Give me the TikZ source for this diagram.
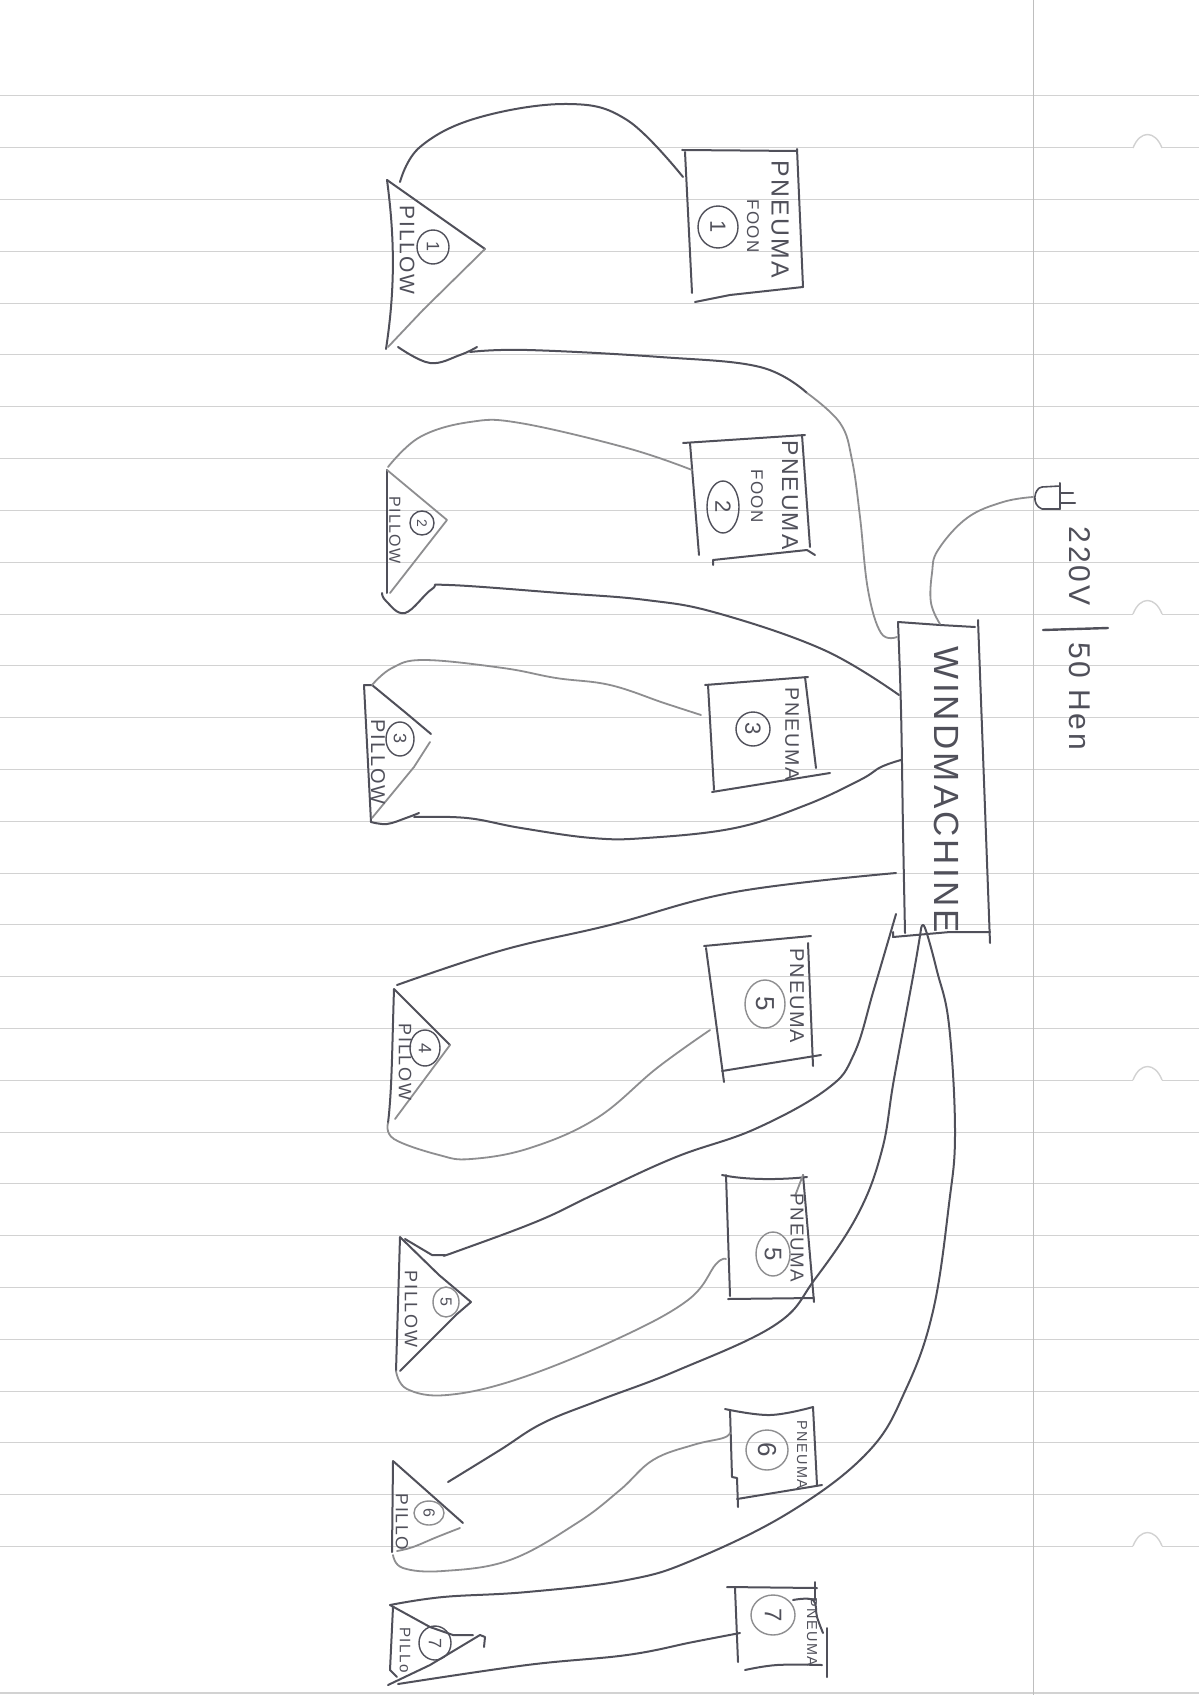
\documentclass[tikz,border=0pt]{standalone}
\usepackage{fontspec}
\setmainfont[LetterSpace=9]{Liberation Sans}
\definecolor{ink}{HTML}{50505A}
\definecolor{inkl}{HTML}{8E8E90}
\definecolor{rule}{HTML}{D2D2D2}
\definecolor{margin}{HTML}{BEBEBE}
\newcommand{\fs}[1]{\fontsize{#1}{#1}\selectfont}
\tikzset{
  pen/.style={draw=ink,line width=1pt,line cap=round,line join=round},
  penl/.style={draw=inkl,line width=.9pt,line cap=round,line join=round},
  cv/.style={smooth,tension=.65},
  lab/.style={rotate=-90,inner sep=0pt,text=ink,font=\fs{#1}},
  num/.style={draw=ink,line width=.7pt,ellipse,inner sep=0pt}
}
\usetikzlibrary{shapes.geometric}
\begin{document}
\begin{tikzpicture}[x=.5pt,y=-.5pt]
\useasboundingbox (0,0) rectangle (1199,1695);
\fill[white] (0,0) rectangle (1199,1695);
% paper
\foreach \k in {0,...,28}{\draw[rule,line width=.5pt] (0,{96+51.8*\k}) -- (1199,{96+51.8*\k});}
\draw[rule,line width=.8pt] (0,1693) -- (1199,1693);
\draw[margin,line width=.5pt] (1033,0) -- (1033,1695);
\foreach \k in {148,614,1080,1546}{
  \fill[white] (1133,{\k-1.5}) rectangle (1162,{\k+1.5});
  \draw[rule,line width=.7pt] (1133,\k) .. controls (1140,{\k-18}) and (1155,{\k-18}) .. (1162,\k);
}
% ---------- windmachine
\coordinate (mTL) at (898,622); \coordinate (mTR) at (975,627);
\coordinate (mL2) at (899,695); \coordinate (mL3) at (901,760); \coordinate (mL4) at (896,873);
\coordinate (mL5) at (896,914); \coordinate (mB) at (921,929); \coordinate (mL1) at (897,637);
\coordinate (mP) at (940,624);
\draw[pen] (mTL) -- (940,625) -- (mTR);
\draw[pen] (978,620) -- (990,943);
\draw[pen] plot[cv] coordinates {(mTL) (901,710) (903,830) (905,933)};
\draw[pen] (893,932) -- (893,937) -- (950,932) -- (990,932);
\node[lab=17.5] (wm) at (947,790) {WINDMACHINE};
% plug
\coordinate (plugin) at (1033,497);
\draw[penl] plot[cv] coordinates {(mP) (931,603) (932,573) (938,550) (967,518) (1003,502) (plugin)};
\draw[pen,line width=.8pt] (1060,486) -- (1042,487) .. controls (1034,488) and (1031,505) .. (1042,509) -- (1060,509);
\draw[pen] (1060,483) -- (1060,509);
\draw[pen] (1060,493) -- (1073,493); \draw[pen] (1060,503) -- (1075,503);
\node[lab=15] (volt) at (1080,566) {220V};
\draw[pen,line width=1.2pt] (1043,630) -- (1108,628);
\node[lab=15] (hz) at (1080,696) {50 Hen};
% ---------- 1
\draw[pen] (387,180) .. controls (395,240) and (395,290) .. (386,349);
\draw[pen] (387,180) -- (485,249);
\draw[penl] (485,249) -- (423,310) -- (388,347);
\node[lab=10.5] (p1) at (407,250) {PILLOW};
\node[num,minimum width=32pt/2,minimum height=34pt/2] (c1p) at (433,247) {}; \node[lab=9] at (c1p) {1};
\draw[pen] (682,150) -- (797,151); \draw[pen] (685,152) -- (692,293);
\draw[pen] (797,149) -- (803,287); \draw[pen] (695,302) -- (730,295) -- (803,287);
\node[lab=12.4] (b1) at (780,219) {PNEUMA};
\node[lab=8.5] (f1) at (753,226) {FOON};
\node[num,minimum width=40pt/2,minimum height=42pt/2] (c1b) at (718,227) {}; \node[lab=11] at (c1b) {1};
\draw[pen] plot[cv] coordinates {(400,182) (420,147) (477,118) (567,104) (627,120) (683,177)};
\draw[pen] plot[cv] coordinates {(398,347) (430,363) (460,355) (477,347)};
\draw[pen] plot[cv] coordinates {(470,352) (527,350) (660,357) (760,367) (807,393)};
\draw[penl] plot[cv] coordinates {(807,393) (840,423) (852,460) (860,517) (868,590) (881,633) (mL1)};
% ---------- 2
\draw[pen] (387,470) -- (387,593);
\draw[penl] (387,470) -- (447,520) -- (390,593);
\node[lab=8] (p2) at (395,530) {PILLOW};
\node[num,minimum width=24pt/2,minimum height=24pt/2] (c2p) at (422,523) {}; \node[lab=7] at (c2p) {2};
\draw[pen] (683,443) -- (805,435); \draw[pen] (690,443) -- (699,555);
\draw[pen] (802,435) -- (810,547); \draw[pen] (713,565) -- (713,560) -- (807,550) -- (815,555);
\node[lab=11.5] (b2) at (790,495) {PNEUMA};
\node[lab=8.5] (f2) at (757,496) {FOON};
\node[num,minimum width=32pt/2,minimum height=52pt/2] (c2b) at (723,507) {}; \node[lab=11] at (c2b) {2};
\draw[penl] plot[cv] coordinates {(388,467) (420,437) (470,422) (520,423) (627,448) (692,470)};
\draw[pen] plot[cv] coordinates {(382,593) (386,601) (405,613) (432,589) (449,585) (560,593) (646,600) (717,613) (824,650) (mL2)};
% ---------- 3
\draw[pen] (364,685) -- (371,822);
\draw[pen] (364,685) -- (372,685) -- (406,713) -- (431,734);
\draw[penl] (430,742) -- (414,767) -- (372,818);
\node[lab=10] (p3) at (378,762) {PILLOW};
\node[num,minimum width=28pt/2,minimum height=34pt/2] (c3p) at (400,739) {}; \node[lab=9] at (c3p) {3};
\draw[pen] (705,685) -- (808,677); \draw[pen] (708,685) -- (714,790);
\draw[pen] (805,677) -- (816,768); \draw[pen] (712,792) -- (830,773);
\node[lab=9.8] (b3) at (792,734) {PNEUMA};
\node[num,minimum width=34pt/2,minimum height=34pt/2] (c3b) at (753,729) {}; \node[lab=11] at (c3b) {3};
\draw[penl] plot[cv] coordinates {(372,685) (392,668) (424,660) (503,668) (556,678) (610,685) (664,703) (701,715)};
\draw[pen] plot[cv] coordinates {(371,822) (387,824) (406,818) (419,813)};
\draw[pen] plot[cv] coordinates {(414,817) (467,818) (521,828) (592,838) (646,838) (735,828) (806,805) (860,780) (881,767) (mL3)};
% ---------- 4
\draw[pen] (394,989) .. controls (392,1050) and (392,1090) .. (388,1123);
\draw[pen] (394,989) -- (450,1045);
\draw[penl] (450,1045) -- (395,1119);
\node[lab=9] (p4) at (405,1062) {PILLOW};
\node[num,minimum width=30pt/2,minimum height=36pt/2] (c4p) at (425,1048) {}; \node[lab=9] at (c4p) {4};
\draw[pen] (704,946) -- (811,936); \draw[pen] (706,948) -- (724,1082);
\draw[pen] (808,943) -- (813,1066); \draw[pen] (722,1071) -- (821,1055);
\node[lab=10] (b4) at (797,996) {PNEUMA};
\node[num,draw=inkl,minimum width=40pt/2,minimum height=48pt/2] (c4b) at (765,1004) {}; \node[lab=13] at (c4b) {5};
\draw[pen] plot[cv] coordinates {(397,985) (503,950) (610,925) (735,892) (mL4)};
\draw[penl] plot[cv] coordinates {(388,1123) (394,1139) (439,1155) (471,1159) (530,1148) (597,1118) (657,1068) (710,1030)};
% ---------- 5
\draw[pen] (400,1237) -- (396,1371);
\draw[pen] (400,1237) -- (439,1275) -- (471,1302);
\draw[pen] (471,1302) -- (457,1314) -- (400,1371);
\node[lab=9] (p5) at (411,1309) {PILLOW};
\node[num,draw=inkl,minimum width=26pt/2,minimum height=30pt/2] (c5p) at (446,1302) {}; \node[lab=8] at (c5p) {5};
\draw[pen] (722,1175) .. controls (745,1180) and (780,1180) .. (807,1177);
\draw[pen] (726,1175) -- (730,1296);
\draw[pen] (803,1175) -- (814,1302); \draw[pen] (728,1299) -- (814,1298);
\draw[penl] (803,1175) -- (795,1196);
\node[lab=9.4] (b5) at (797,1238) {PNEUMA};
\node[num,draw=inkl,minimum width=34pt/2,minimum height=44pt/2] (c5b) at (773,1254) {}; \node[lab=12] at (c5b) {5};
\draw[pen] plot[cv] coordinates {(mL5) (874,989) (854,1054) (827,1089) (755,1129) (676,1157) (597,1193) (538,1221) (455,1252) (445,1255)};
\draw[pen] (445,1255) -- (432,1255) -- (405,1239);
\draw[penl] plot[cv] coordinates {(396,1371) (407,1389) (447,1395) (518,1379) (617,1339) (688,1300) (716,1264) (726,1259)};
% ---------- 6
\draw[pen] (393,1461) -- (392,1552);
\draw[pen] (393,1461) -- (463,1523);
\draw[penl] plot[cv] coordinates {(460,1528) (437,1537) (413,1547) (397,1551)};
\node[lab=8.8] (p6) at (402,1522) {PILLO};
\node[num,draw=inkl,minimum width=30pt/2,minimum height=24pt/2] (c6p) at (429,1513) {}; \node[lab=8] at (c6p) {6};
\draw[pen] plot[cv] coordinates {(725,1409) (770,1415) (813,1407)};
\draw[pen] (730,1410) -- (732,1477) -- (737,1478) -- (738,1507);
\draw[pen] (813,1407) -- (817,1485); \draw[pen] (737,1499) -- (822,1485);
\node[lab=7.2] (b6) at (802,1455) {PNEUMA};
\node[num,draw=inkl,minimum width=42pt/2,minimum height=40pt/2] (c6b) at (767,1450) {}; \node[lab=13] at (c6b) {6};
\draw[pen] plot[cv] coordinates {(mB) (914,971) (894,1079) (882,1150) (858,1214) (815,1279) (775,1325) (676,1371) (600,1400) (543,1423) (500,1450) (448,1482)};
\draw[penl] plot[cv] coordinates {(393,1555) (403,1568) (443,1571) (510,1560) (577,1523) (620,1490) (653,1460) (693,1445) (723,1438) (730,1433)};
% ---------- 7
\draw[pen] (393,1607) -- (390,1670) -- (397,1677);
\draw[pen] (390,1605) -- (430,1627) -- (453,1635) -- (473,1635);
\draw[pen] (388,1685) -- (430,1665) -- (480,1635) -- (485,1637) -- (484,1647);
\node[lab=7.6] (p7) at (405,1650) {PILLo};
\node[num,minimum width=32pt/2,minimum height=34pt/2] (c7p) at (435,1643) {}; \node[lab=9] at (c7p) {7};
\draw[pen] (727,1587) -- (817,1588); \draw[pen] (735,1588) -- (738,1662);
\draw[pen] (815,1582) -- (815,1600);
\draw[pen] plot[cv] coordinates {(793,1600) (813,1600) (817,1617) (823,1633)};
\draw[pen] (827,1628) -- (827,1677);
\draw[pen] plot[cv] coordinates {(745,1670) (777,1665) (822,1665)};
\node[lab=7.2] (b7) at (812,1632) {PNEUMA};
\node[num,draw=inkl,minimum width=44pt/2,minimum height=40pt/2] (c7b) at (773,1615) {}; \node[lab=12] at (c7b) {7};
\draw[pen] plot[cv] coordinates {(mB) (925,928) (937,971) (949,1025) (955,1132) (949,1204) (933,1311) (906,1389) (868,1452) (790,1512) (693,1560) (627,1580) (527,1592) (443,1597) (390,1605)};
\draw[pen] plot[cv] coordinates {(398,1684) (527,1665) (627,1655) (693,1642) (740,1633)};
\end{tikzpicture}
\end{document}
